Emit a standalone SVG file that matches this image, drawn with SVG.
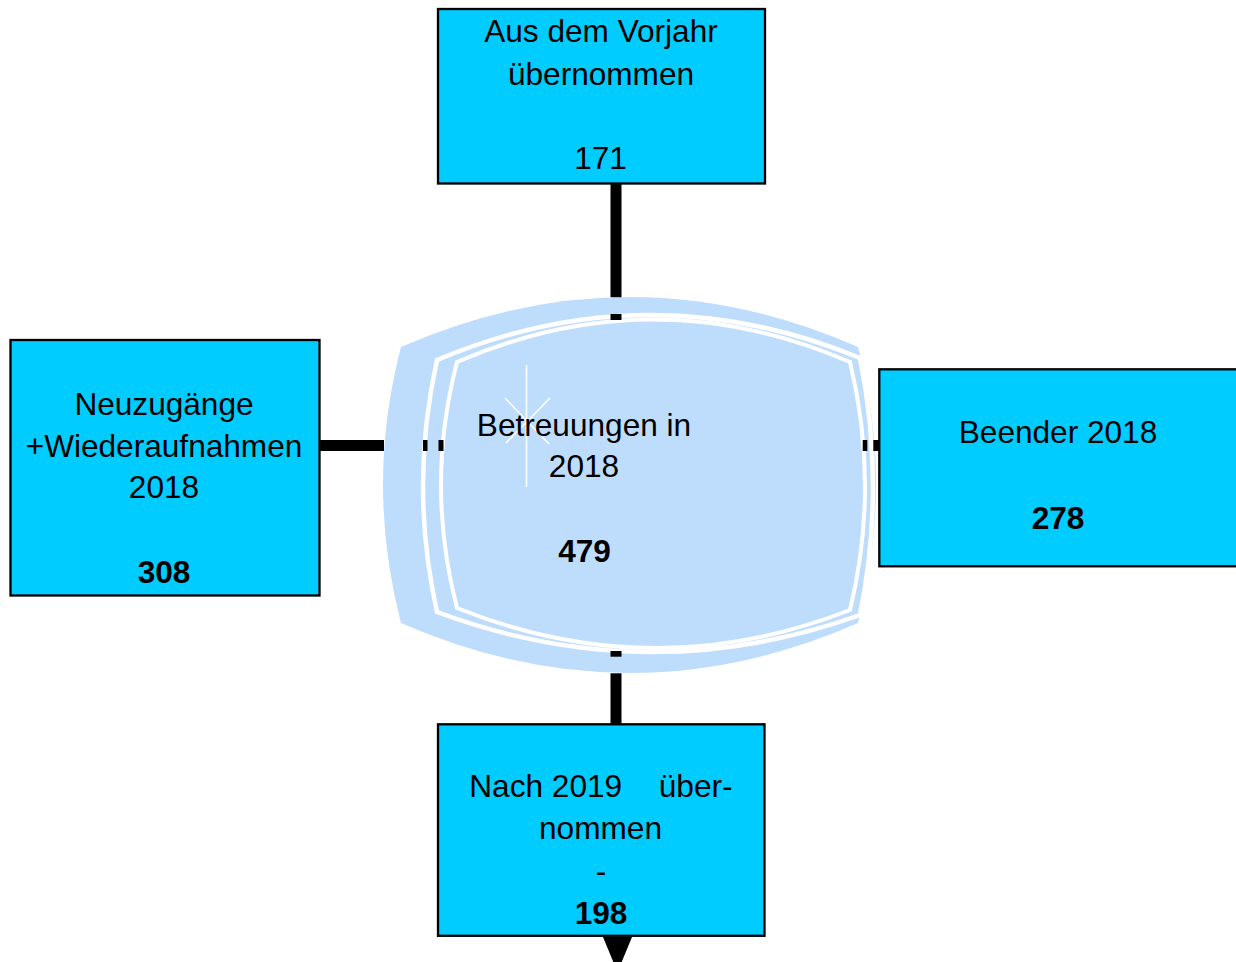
<svg xmlns="http://www.w3.org/2000/svg" width="1236" height="962" viewBox="0 0 1236 962">
<style>
.box{fill:#00CCFF;stroke:#000;stroke-width:2.3}
.t{font-family:"Liberation Sans",Arial,sans-serif;font-size:31.6px;fill:#000;text-anchor:middle}
.b{font-weight:bold}
.gap{fill:none;stroke:#fff}
.ln{stroke:#000;stroke-width:11;fill:none}
.dash{fill:#000}
.spark{stroke:#fff;stroke-width:1.6;fill:none}
</style>
<rect width="1236" height="962" fill="#fff"/>
<g id="center">
<path d="M401,347 Q629.5,247 858,347 Q894,485 858,623 Q629.5,723 401,623 Q365,485 401,347 Z" fill="#BEDDFC"/>
<path class="gap" stroke-width="4.5" d="M437,360 Q648.5,271 860,358 Q886,486.5 860,615 Q648.5,690.5 437,612 Q409,486 437,360 Z"/>
<path class="gap" stroke-width="4" d="M457,362 Q653.5,277 850,362 Q880,486 850,610 Q653.5,687 457,608 Q425,485 457,362 Z"/>
<g class="spark">
<line x1="526.5" y1="365" x2="526.5" y2="487"/>
<line x1="505" y1="398" x2="549" y2="444"/>
<line x1="550" y1="398" x2="506" y2="443"/>
</g>
<text class="t" x="584" y="435.5">Betreuungen in</text>
<text class="t" x="584" y="477">2018</text>
<text class="t b" x="584.5" y="562">479</text>
</g>
<g id="connectors">
<line class="ln" x1="616" y1="184" x2="616" y2="297.2"/>
<line class="ln" x1="319" y1="445.5" x2="384" y2="445.5"/>
<line class="ln" x1="616" y1="673.3" x2="616" y2="724"/>
<rect class="dash" x="610.5" y="314" width="11" height="6"/>
<rect class="dash" x="610.5" y="651" width="11" height="5.7"/>
<rect class="dash" x="423" y="440" width="4.5" height="11"/>
<rect class="dash" x="438.5" y="440" width="5" height="11"/>
<rect class="dash" x="862.7" y="440" width="4.6" height="11"/>
<rect class="dash" x="873.3" y="440" width="6" height="11"/>
<polygon points="603,937 632,937 617.5,972" fill="#000"/>
</g>
<g id="top">
<rect class="box" x="438" y="9" width="327" height="174.5"/>
<text class="t" x="601" y="42">Aus dem Vorjahr</text>
<text class="t" x="601" y="85">übernommen</text>
<text class="t" x="600.5" y="169">171</text>
</g>
<g id="left">
<rect class="box" x="10.5" y="340" width="309" height="255.5"/>
<text class="t" x="164" y="415.3">Neuzugänge</text>
<text class="t" x="164" y="456.7">+Wiederaufnahmen</text>
<text class="t" x="164" y="498.3">2018</text>
<text class="t b" x="164" y="582.5">308</text>
</g>
<g id="right">
<rect class="box" x="879.3" y="369.3" width="360" height="197"/>
<text class="t" x="1058" y="443.3">Beender 2018</text>
<text class="t b" x="1058" y="528.5">278</text>
</g>
<g id="bottom">
<rect class="box" x="438" y="724.3" width="326.5" height="211.5"/>
<text class="t" x="469.3" y="797" style="text-anchor:start">Nach 2019</text>
<text class="t" x="732.5" y="797" style="text-anchor:end">über-</text>
<text class="t" x="600.5" y="839.3">nommen</text>
<text class="t" x="601" y="881.7">-</text>
<text class="t b" x="601" y="924">198</text>
</g>
</svg>
